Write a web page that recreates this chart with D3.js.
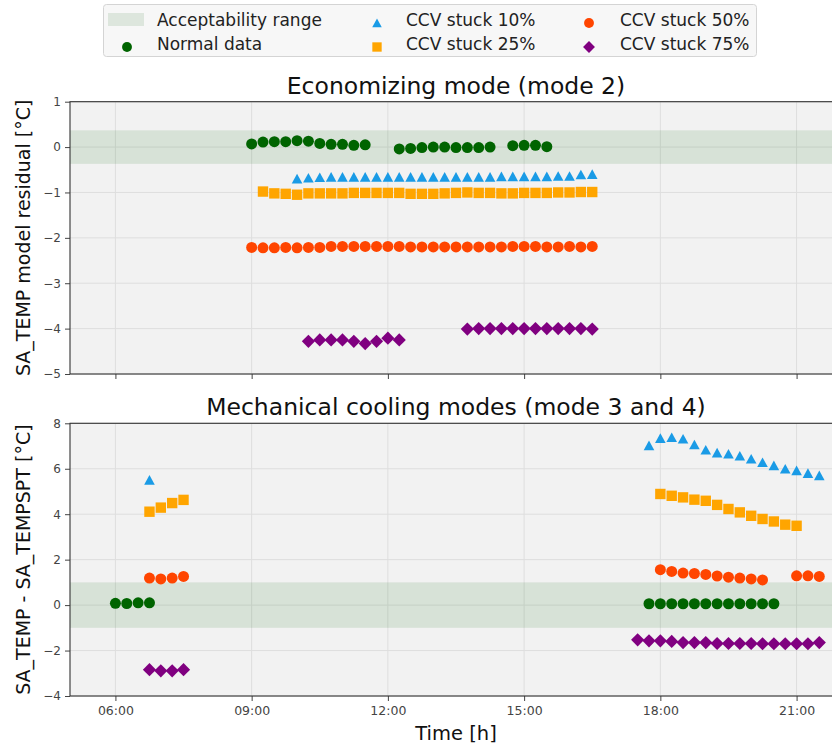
<!DOCTYPE html>
<html>
<head>
<meta charset="utf-8">
<script src="https://cdn.jsdelivr.net/npm/d3@7"></script>
<style>
  body { margin: 0; background: #fff; }
  svg { display: block; font-family: "DejaVu Sans", sans-serif; }
</style>
</head>
<body>
<svg id="chart" width="832" height="746"></svg>
<script>
// ---- Economizing mode (mode 2): model residuals ----
const econNormal = [
  ["09:00", 0.07], ["09:15", 0.11], ["09:30", 0.12], ["09:45", 0.12], ["10:00", 0.14], ["10:15", 0.13],
  ["10:30", 0.08], ["10:45", 0.06], ["11:00", 0.06], ["11:15", 0.04], ["11:30", 0.05],
  ["12:15", -0.04], ["12:30", -0.03], ["12:45", -0.01], ["13:00", 0.00], ["13:15", 0.00], ["13:30", -0.01],
  ["13:45", -0.01], ["14:00", -0.01], ["14:15", 0.00],
  ["14:45", 0.03], ["15:00", 0.04], ["15:15", 0.04], ["15:30", 0.01]
];
const econStuck10 = [
  ["10:00", -0.70], ["10:15", -0.68], ["10:30", -0.67], ["10:45", -0.66], ["11:00", -0.66], ["11:15", -0.66],
  ["11:30", -0.66], ["11:45", -0.66], ["12:00", -0.66], ["12:15", -0.66], ["12:30", -0.66], ["12:45", -0.66],
  ["13:00", -0.66], ["13:15", -0.66], ["13:30", -0.66], ["13:45", -0.66], ["14:00", -0.66], ["14:15", -0.66],
  ["14:30", -0.65], ["14:45", -0.65], ["15:00", -0.65], ["15:15", -0.65], ["15:30", -0.65], ["15:45", -0.64],
  ["16:00", -0.64], ["16:15", -0.61], ["16:30", -0.60]
];
const econStuck25 = [
  ["09:15", -0.98], ["09:30", -1.02], ["09:45", -1.03], ["10:00", -1.05], ["10:15", -1.02], ["10:30", -1.02],
  ["10:45", -1.02], ["11:00", -1.02], ["11:15", -1.01], ["11:30", -1.01], ["11:45", -1.01], ["12:00", -1.01],
  ["12:15", -1.01], ["12:30", -1.03], ["12:45", -1.03], ["13:00", -1.03], ["13:15", -1.02], ["13:30", -1.01],
  ["13:45", -1.00], ["14:00", -1.01], ["14:15", -1.01], ["14:30", -1.02], ["14:45", -1.02], ["15:00", -1.01],
  ["15:15", -1.01], ["15:30", -1.01], ["15:45", -1.00], ["16:00", -1.00], ["16:15", -0.99], ["16:30", -0.99]
];
const econStuck50 = [
  ["09:00", -2.21], ["09:15", -2.22], ["09:30", -2.22], ["09:45", -2.21], ["10:00", -2.22], ["10:15", -2.21],
  ["10:30", -2.21], ["10:45", -2.19], ["11:00", -2.19], ["11:15", -2.19], ["11:30", -2.19], ["11:45", -2.19],
  ["12:00", -2.19], ["12:15", -2.19], ["12:30", -2.20], ["12:45", -2.20], ["13:00", -2.20], ["13:15", -2.20],
  ["13:30", -2.20], ["13:45", -2.20], ["14:00", -2.20], ["14:15", -2.20], ["14:30", -2.20], ["14:45", -2.19],
  ["15:00", -2.19], ["15:15", -2.19], ["15:30", -2.20], ["15:45", -2.20], ["16:00", -2.19], ["16:15", -2.20],
  ["16:30", -2.19]
];
const econStuck75 = [
  ["10:15", -4.28], ["10:30", -4.25], ["10:45", -4.25], ["11:00", -4.25], ["11:15", -4.28], ["11:30", -4.33],
  ["11:45", -4.28], ["12:00", -4.21], ["12:15", -4.25],
  ["13:45", -4.01], ["14:00", -4.00], ["14:15", -4.00], ["14:30", -4.00], ["14:45", -4.00], ["15:00", -4.00],
  ["15:15", -4.00], ["15:30", -4.00], ["15:45", -4.00], ["16:00", -4.00], ["16:15", -4.00], ["16:30", -4.01]
];

// ---- Mechanical cooling modes (mode 3 and 4): SA_TEMP - SA_TEMPSPT ----
const mechNormal = [
  ["06:00", 0.08], ["06:15", 0.07], ["06:30", 0.10], ["06:45", 0.10],
  ["17:45", 0.06], ["18:00", 0.06], ["18:15", 0.06], ["18:30", 0.06], ["18:45", 0.06], ["19:00", 0.06],
  ["19:15", 0.06], ["19:30", 0.06], ["19:45", 0.06], ["20:00", 0.06], ["20:15", 0.06], ["20:30", 0.06]
];
const mechStuck10 = [
  ["06:45", 5.50],
  ["17:45", 7.02], ["18:00", 7.34], ["18:15", 7.38], ["18:30", 7.31], ["18:45", 7.06], ["19:00", 6.83],
  ["19:15", 6.70], ["19:30", 6.65], ["19:45", 6.56], ["20:00", 6.43], ["20:15", 6.28], ["20:30", 6.14],
  ["20:45", 5.99], ["21:00", 5.92], ["21:15", 5.80], ["21:30", 5.70]
];
const mechStuck25 = [
  ["06:45", 4.11], ["07:00", 4.29], ["07:15", 4.49], ["07:30", 4.63],
  ["18:00", 4.89], ["18:15", 4.81], ["18:30", 4.74], ["18:45", 4.64], ["19:00", 4.59], ["19:15", 4.41],
  ["19:30", 4.23], ["19:45", 4.08], ["20:00", 3.93], ["20:15", 3.79], ["20:30", 3.68], ["20:45", 3.54],
  ["21:00", 3.49]
];
const mechStuck50 = [
  ["06:45", 1.19], ["07:00", 1.15], ["07:15", 1.19], ["07:30", 1.26],
  ["18:00", 1.56], ["18:15", 1.48], ["18:30", 1.41], ["18:45", 1.39], ["19:00", 1.35], ["19:15", 1.28],
  ["19:30", 1.23], ["19:45", 1.19], ["20:00", 1.15], ["20:15", 1.11],
  ["21:00", 1.29], ["21:15", 1.29], ["21:30", 1.26]
];
const mechStuck75 = [
  ["06:45", -2.84], ["07:00", -2.89], ["07:15", -2.89], ["07:30", -2.84],
  ["17:30", -1.53], ["17:45", -1.57], ["18:00", -1.57], ["18:15", -1.60], ["18:30", -1.65], ["18:45", -1.65],
  ["19:00", -1.65], ["19:15", -1.69], ["19:30", -1.69], ["19:45", -1.69], ["20:00", -1.69], ["20:15", -1.70],
  ["20:30", -1.70], ["20:45", -1.70], ["21:00", -1.70], ["21:15", -1.70], ["21:30", -1.65]
];

const xTickLabels = ["06:00", "09:00", "12:00", "15:00", "18:00", "21:00"];
const econYTicks = [1, 0, -1, -2, -3, -4, -5];
const mechYTicks = [8, 6, 4, 2, 0, -2, -4];
const econBand = [-0.37, 0.37];
const mechBand = [-1, 1];

// ---- styling ----
const COLORS = {
  band: "rgba(0,100,0,0.11)",
  normal: "#006400",
  s10: "#1a9be6",
  s25: "#ffa500",
  s50: "#ff4500",
  s75: "#800080"
};
const TICK_COLOR = "#444";
const SPINE_COLOR = "#333";

const parse = d3.timeParse("%H:%M");
const svg = d3.select("#chart");

const left = 70, right = 842;
const x = d3.scaleTime().domain([parse("05:00"), parse("22:00")]).range([left, right]);

// marker shapes
const markerPath = {
  circle: () => d3.symbol(d3.symbolCircle, Math.PI * 5.5 * 5.5)(),
  triangle: () => "M0,-5L5.3,4.6L-5.3,4.6Z",
  square: () => "M-5.2,-5.2H5.2V5.2H-5.2Z",
  diamond: () => "M0,-6.6L6.6,0L0,6.6L-6.6,0Z"
};

function drawPanel(opts) {
  const { top, bottom, domain, ticks, band, title, ylabel, series, showXLabels } = opts;
  const y = d3.scaleLinear().domain(domain).range([bottom, top]);
  const g = svg.append("g");

  // axes background
  g.append("rect").attr("x", left).attr("y", top).attr("width", right - left).attr("height", bottom - top)
    .attr("fill", "#f2f2f2");

  // grid
  g.append("g").selectAll("line").data(ticks).join("line")
    .attr("x1", left).attr("x2", right).attr("y1", d => y(d)).attr("y2", d => y(d))
    .attr("stroke", "#dedede").attr("stroke-width", 1);
  g.append("g").selectAll("line").data(xTickLabels).join("line")
    .attr("x1", d => x(parse(d))).attr("x2", d => x(parse(d))).attr("y1", top).attr("y2", bottom)
    .attr("stroke", "#dedede").attr("stroke-width", 1);

  // acceptability band
  g.append("rect").attr("x", left).attr("width", right - left)
    .attr("y", y(band[1])).attr("height", y(band[0]) - y(band[1]))
    .attr("fill", COLORS.band);

  // markers
  series.forEach(s => {
    g.append("g").selectAll("path").data(s.data).join("path")
      .attr("d", markerPath[s.shape]())
      .attr("transform", d => `translate(${x(parse(d[0]))},${y(d[1])})`)
      .attr("fill", s.color);
  });

  // y axis
  const yAxis = d3.axisLeft(y).tickValues(ticks).tickSize(5).tickPadding(4).tickFormat(d3.format("d"));
  const ya = g.append("g").attr("transform", `translate(${left},0)`).call(yAxis);
  ya.select(".domain").remove();
  ya.selectAll(".tick line").attr("stroke", TICK_COLOR);
  ya.selectAll(".tick text").attr("fill", TICK_COLOR).style("font-size", "12px")
    .style("font-family", "DejaVu Sans");

  // x axis
  const xAxis = d3.axisBottom(x).tickValues(xTickLabels.map(parse)).tickSize(5).tickPadding(5)
    .tickFormat(showXLabels ? d3.timeFormat("%H:%M") : () => "");
  const xa = g.append("g").attr("transform", `translate(0,${bottom})`).call(xAxis);
  xa.select(".domain").remove();
  xa.selectAll(".tick line").attr("stroke", TICK_COLOR);
  xa.selectAll(".tick text").attr("fill", TICK_COLOR).style("font-size", "12.5px")
    .style("font-family", "DejaVu Sans");

  // spines
  g.append("rect").attr("x", left).attr("y", top).attr("width", right - left).attr("height", bottom - top)
    .attr("fill", "none").attr("stroke", SPINE_COLOR).attr("stroke-width", 1.1);

  // title
  g.append("text").attr("x", (left + right) / 2).attr("y", top - 8)
    .attr("text-anchor", "middle").attr("fill", "#111").style("font-size", "23.5px").text(title);

  // y label
  g.append("text").attr("transform", `translate(30,${(top + bottom) / 2}) rotate(-90)`)
    .attr("text-anchor", "middle").attr("fill", "#111").style("font-size", "19px").text(ylabel);
}

drawPanel({
  top: 101.7, bottom: 374, domain: [-5, 1], ticks: econYTicks, band: econBand,
  title: "Economizing mode (mode 2)", ylabel: "SA_TEMP model residual [°C]", showXLabels: false,
  series: [
    { data: econNormal, shape: "circle", color: COLORS.normal },
    { data: econStuck10, shape: "triangle", color: COLORS.s10 },
    { data: econStuck25, shape: "square", color: COLORS.s25 },
    { data: econStuck50, shape: "circle", color: COLORS.s50 },
    { data: econStuck75, shape: "diamond", color: COLORS.s75 }
  ]
});

drawPanel({
  top: 423.3, bottom: 696, domain: [-4, 8], ticks: mechYTicks, band: mechBand,
  title: "Mechanical cooling modes (mode 3 and 4)", ylabel: "SA_TEMP - SA_TEMPSPT [°C]", showXLabels: true,
  series: [
    { data: mechNormal, shape: "circle", color: COLORS.normal },
    { data: mechStuck10, shape: "triangle", color: COLORS.s10 },
    { data: mechStuck25, shape: "square", color: COLORS.s25 },
    { data: mechStuck50, shape: "circle", color: COLORS.s50 },
    { data: mechStuck75, shape: "diamond", color: COLORS.s75 }
  ]
});

// x axis label
svg.append("text").attr("x", 456).attr("y", 740).attr("text-anchor", "middle")
  .attr("fill", "#111").style("font-size", "19.5px").text("Time [h]");

// ---- legend ----
const legendItems = [
  { label: "Acceptability range", kind: "patch", color: COLORS.band, col: 0, row: 0 },
  { label: "Normal data", kind: "circle", color: COLORS.normal, col: 0, row: 1 },
  { label: "CCV stuck 10%", kind: "triangle", color: COLORS.s10, col: 1, row: 0 },
  { label: "CCV stuck 25%", kind: "square", color: COLORS.s25, col: 1, row: 1 },
  { label: "CCV stuck 50%", kind: "circle", color: COLORS.s50, col: 2, row: 0 },
  { label: "CCV stuck 75%", kind: "diamond", color: COLORS.s75, col: 2, row: 1 }
];
const legendColX = [127, 377, 589];
const legendTextX = [157, 406, 620];
const legendRowY = [20, 44];

const lg = svg.append("g");
lg.append("rect").attr("x", 103.5).attr("y", 4.5).attr("width", 653).attr("height", 52).attr("rx", 3)
  .attr("fill", "#f7f7f7").attr("stroke", "#d4d4d4").attr("stroke-width", 1);

legendItems.forEach(it => {
  const cx = legendColX[it.col], cy = legendRowY[it.row];
  if (it.kind === "patch") {
    lg.append("rect").attr("x", 108).attr("y", cy - 7).attr("width", 36).attr("height", 13)
      .attr("fill", "#dde6dd");
  } else {
    lg.append("path").attr("d", markerPath[it.kind]())
      .attr("transform", `translate(${cx},${cy + 3}) scale(0.9)`).attr("fill", it.color);
  }
  lg.append("text").attr("x", legendTextX[it.col]).attr("y", cy).attr("dy", "0.35em")
    .attr("fill", "#222").style("font-size", "17px").text(it.label);
});
</script>
</body>
</html>
